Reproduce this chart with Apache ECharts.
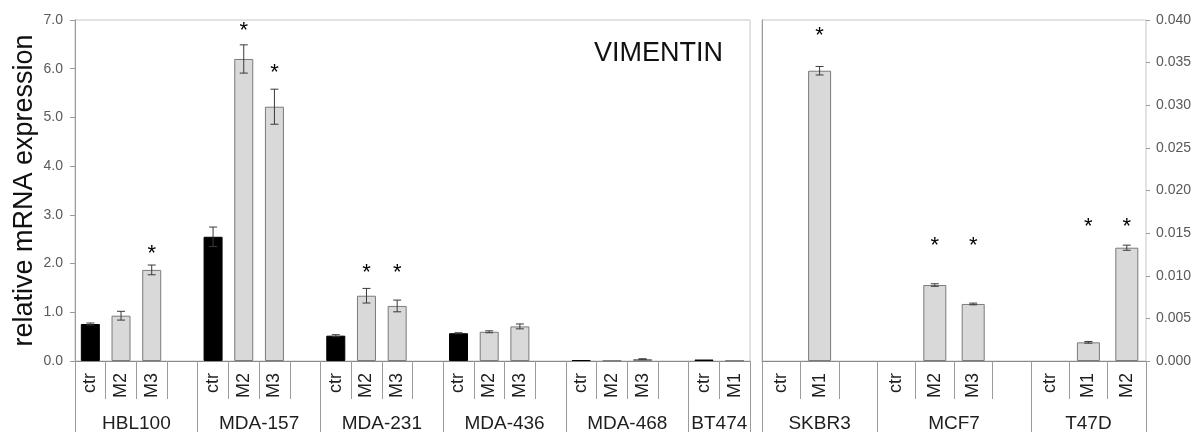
<!DOCTYPE html>
<html><head><meta charset="utf-8">
<script src="https://cdn.jsdelivr.net/npm/echarts@6/dist/echarts.min.js"></script>
<style>html,body{margin:0;padding:0;background:#fff}#c{width:1194px;height:432px}</style>
</head><body><div id="c"></div>
<script>
// ---- data: left panel (left axis) ----
const leftCats   = ['ctr','M2','M3','', 'ctr','M2','M3','', 'ctr','M2','M3','', 'ctr','M2','M3','', 'ctr','M2','M3','', 'ctr','M1'];
const leftValues = [0.76,0.93,1.87,'-', 2.55,6.20,5.22,'-', 0.52,1.34,1.13,'-', 0.57,0.60,0.71,'-', 0.02,0.01,0.04,'-', 0.03,0.01];
const leftErrors = [0.02,0.09,0.10,0, 0.20,0.29,0.36,0, 0.02,0.15,0.12,0, 0.01,0.02,0.05,0, 0,0,0.005,0, 0,0];
const leftStars  = [null,null,2.31,null, null,6.87,6.01,null, null,1.91,1.91,null, null,null,null,null, null,null,null,null, null,null];
const leftGroups = ['HBL100','MDA-157','MDA-231','MDA-436','MDA-468','BT474'];
const leftGroupBounds = [0,4,8,12,16,20,22];
const leftAxisMin = 0, leftAxisMax = 7, leftAxisStep = 1;

// ---- data: right panel (right axis) ----
const rightCats   = ['ctr','M1','', 'ctr','M2','M3','', 'ctr','M1','M2'];
const rightValues = [0,0.03405,'-', 0,0.00891,0.00669,'-', 0,0.00219,0.01329];
const rightErrors = [0,0.0005,0, 0,0.00015,0.0001,0, 0,0.0001,0.0003];
const rightStars  = [null,0.03867,null, null,0.01413,0.01413,null, null,0.01630,0.01630];
const rightGroups = ['SKBR3','MCF7','T47D'];
const rightGroupBounds = [0,3,7,10];
const rightAxisMin = 0, rightAxisMax = 0.04, rightAxisStep = 0.005;

const chartTitle = 'VIMENTIN';
const yAxisName = 'relative mRNA expression';

// ---- styles ----
const FONT = '"Liberation Sans", Arial, sans-serif';
const AXIS_GRAY = '#9a9a9a';
const LABEL_GRAY = '#595959';
const TEXT_DARK = '#1e1e1e';

function barData(cats, values) {
  return values.map((v, i) => {
    if (v === '-') return '-';
    const ctr = cats[i] === 'ctr';
    return {
      value: v,
      itemStyle: ctr ? {color: '#000', borderColor: '#000', borderWidth: v === 0 ? 0 : 1}
                     : {color: '#d9d9d9', borderColor: '#7a7a7a', borderWidth: v === 0 ? 0 : 1}
    };
  });
}
function errData(values, errors) {
  const out = [];
  values.forEach((v, i) => { if (v !== '-' && errors[i] > 0) out.push([i, v, errors[i]]); });
  return out;
}
function starData(stars) {
  const out = [];
  stars.forEach((s, i) => { if (s != null) out.push([i, s]); });
  return out;
}
function groupCenters(bounds) {
  const c = [];
  for (let i = 0; i < bounds.length - 1; i++) c.push((bounds[i] + bounds[i + 1]) / 2);
  return c;
}
function groupName(bounds, names) {
  const centers = groupCenters(bounds);
  return function (val) {
    for (let i = 0; i < centers.length; i++) if (Math.abs(centers[i] - val) < 1e-6) return names[i];
    return '';
  };
}
const errRender = (capHalf) => function (params, api) {
  const i = api.value(0), v = api.value(1), e = api.value(2);
  const top = api.coord([i, v + e]);
  const bot = api.coord([i, v - e]);
  const x = top[0];
  const st = {stroke: '#3a3a3a', lineWidth: 1};
  return {type: 'group', children: [
    {type: 'line', shape: {x1: x, y1: top[1], x2: x, y2: bot[1]}, style: st},
    {type: 'line', shape: {x1: x - capHalf, y1: top[1], x2: x + capHalf, y2: top[1]}, style: st},
    {type: 'line', shape: {x1: x - capHalf, y1: bot[1], x2: x + capHalf, y2: bot[1]}, style: st}
  ]};
};
const starRender = function (params, api) {
  const p = api.coord([api.value(0), api.value(1)]);
  return {type: 'text', style: {text: '*', x: p[0], y: p[1] + 5, align: 'center', verticalAlign: 'middle',
    fontSize: 22, fontFamily: FONT, fill: '#000'}};
};

function catAxis(gridIndex, cats) {
  return {
    type: 'category', gridIndex, data: cats, position: 'bottom',
    axisLine: {show: true, lineStyle: {color: '#8a8a8a', width: 1}},
    axisTick: {show: true, interval: 0, length: 38, lineStyle: {color: AXIS_GRAY}},
    axisLabel: {interval: 0, rotate: 90, margin: 12, fontSize: 18, color: TEXT_DARK, fontFamily: FONT},
    splitLine: {show: false}
  };
}
function groupAxis(gridIndex, bounds, names) {
  return {
    type: 'value', gridIndex, position: 'bottom', min: bounds[0], max: bounds[bounds.length - 1],
    axisLine: {show: false},
    axisTick: {show: true, customValues: bounds, length: 72, lineStyle: {color: AXIS_GRAY}},
    axisLabel: {show: true, customValues: groupCenters(bounds), formatter: groupName(bounds, names),
      margin: 53, fontSize: 19, color: TEXT_DARK, fontFamily: FONT},
    splitLine: {show: false}
  };
}

const option = {
  animation: false,
  backgroundColor: '#fff',
  title: {text: chartTitle, right: 466, top: 35,
    textStyle: {fontSize: 27, fontWeight: 'normal', color: '#111', fontFamily: FONT}},
  grid: [
    {left: 75, right: 444, top: 20, bottom: 71, show: true, borderColor: '#c6c6c6', borderWidth: 1,
      containLabel: false, outerBoundsMode: 'none'},
    {left: 762, right: 48, top: 20, bottom: 71, show: true, borderColor: '#c6c6c6', borderWidth: 1,
      containLabel: false, outerBoundsMode: 'none'}
  ],
  xAxis: [
    catAxis(0, leftCats),
    catAxis(1, rightCats),
    groupAxis(0, leftGroupBounds, leftGroups),
    groupAxis(1, rightGroupBounds, rightGroups)
  ],
  yAxis: [
    {type: 'value', gridIndex: 0, position: 'left', min: leftAxisMin, max: leftAxisMax, interval: leftAxisStep,
      name: yAxisName, nameLocation: 'middle', nameGap: 37, nameRotate: 90, nameMoveOverlap: false,
      nameTextStyle: {fontSize: 27, color: '#111', fontFamily: FONT},
      axisLine: {show: true, lineStyle: {color: AXIS_GRAY}},
      axisTick: {show: true, length: 5, lineStyle: {color: AXIS_GRAY}},
      axisLabel: {formatter: v => v.toFixed(1), fontSize: 14, color: LABEL_GRAY, margin: 12, fontFamily: FONT},
      splitLine: {show: false}},
    {type: 'value', gridIndex: 1, position: 'right', min: rightAxisMin, max: rightAxisMax, interval: rightAxisStep,
      axisLine: {show: true, lineStyle: {color: AXIS_GRAY}},
      axisTick: {show: false},
      axisLabel: {formatter: v => v.toFixed(3), fontSize: 14, color: LABEL_GRAY, margin: 10, fontFamily: FONT},
      splitLine: {show: false}},
    {type: 'value', gridIndex: 1, position: 'right', min: rightAxisMin, max: rightAxisMax, interval: rightAxisStep,
      axisLine: {show: false},
      axisTick: {show: true, length: 4, lineStyle: {color: AXIS_GRAY}},
      axisLabel: {show: false},
      splitLine: {show: false}}
  ],
  series: [
    {type: 'bar', xAxisIndex: 0, yAxisIndex: 0, barWidth: 19, data: barData(leftCats, leftValues), z: 2},
    {type: 'bar', xAxisIndex: 1, yAxisIndex: 1, barWidth: 23, data: barData(rightCats, rightValues), z: 2},
    {type: 'custom', xAxisIndex: 0, yAxisIndex: 0, renderItem: errRender(4), data: errData(leftValues, leftErrors), z: 5},
    {type: 'custom', xAxisIndex: 1, yAxisIndex: 1, renderItem: errRender(4), data: errData(rightValues, rightErrors), z: 5},
    {type: 'custom', xAxisIndex: 0, yAxisIndex: 0, renderItem: starRender, data: starData(leftStars), z: 6},
    {type: 'custom', xAxisIndex: 1, yAxisIndex: 1, renderItem: starRender, data: starData(rightStars), z: 6}
  ]
};
const chart = echarts.init(document.getElementById('c'), null, {renderer: 'canvas'});
chart.setOption(option);
</script></body></html>
